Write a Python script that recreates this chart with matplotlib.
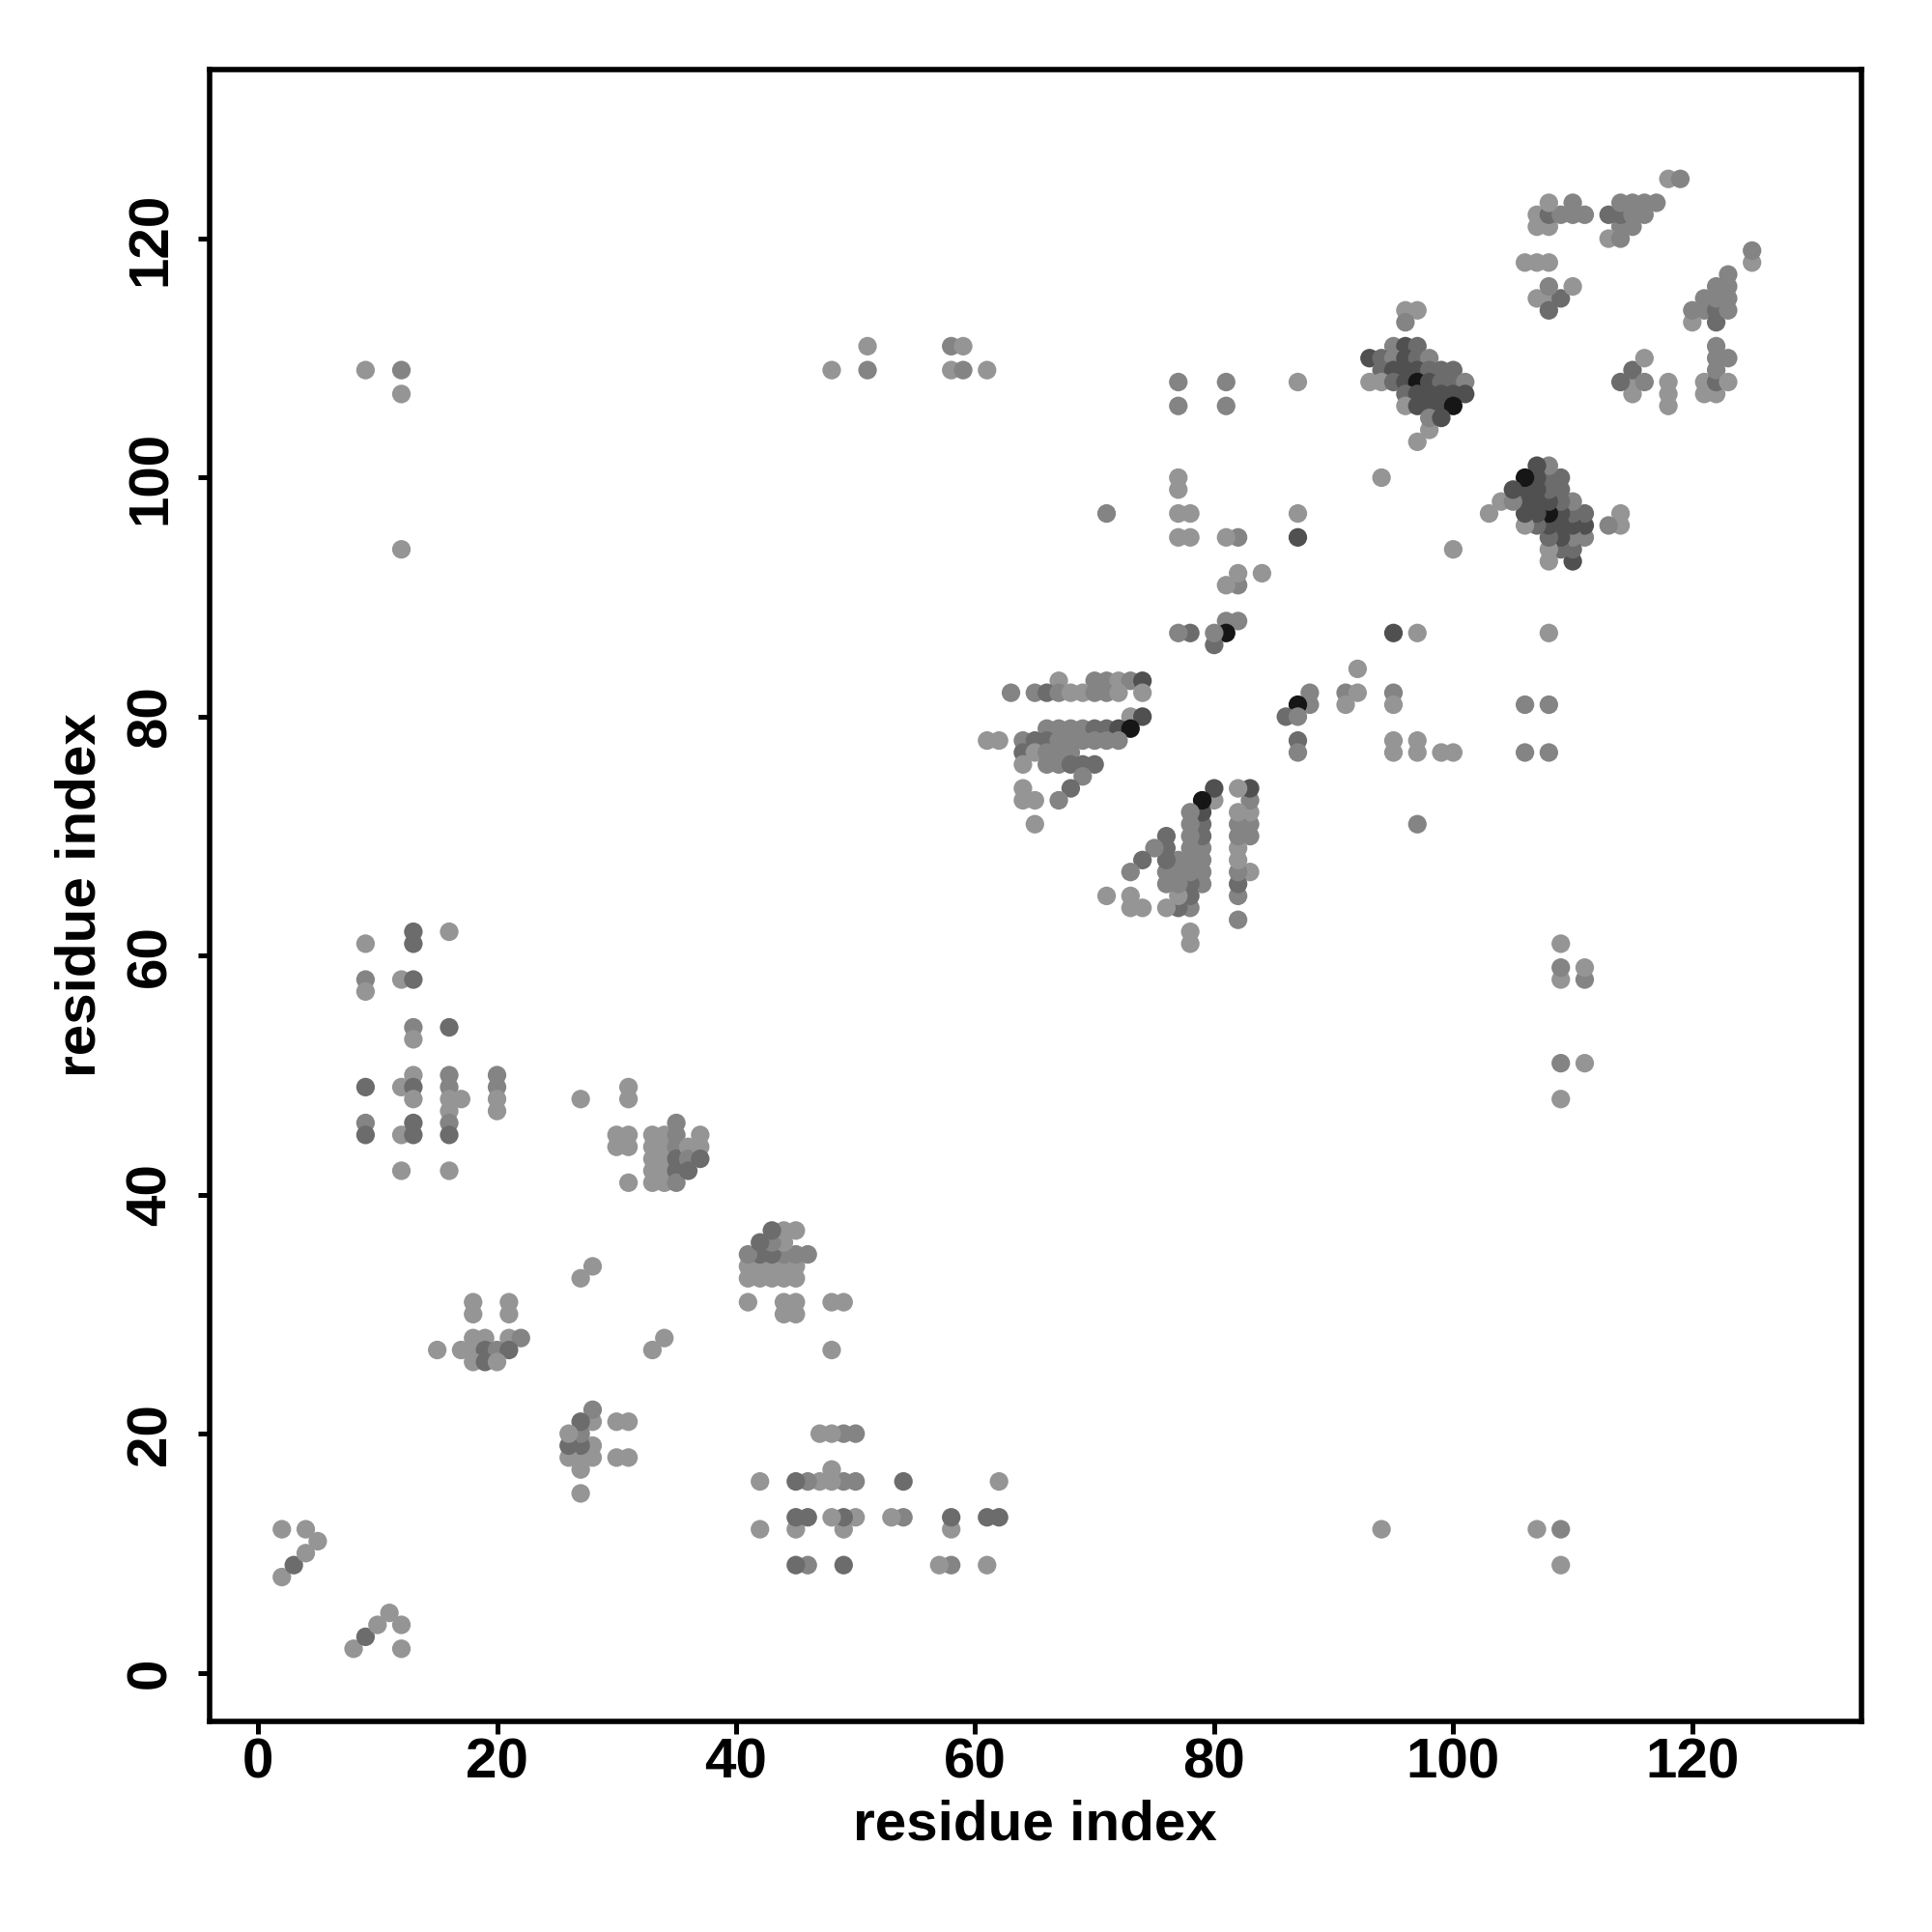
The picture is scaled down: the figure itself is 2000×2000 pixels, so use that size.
import matplotlib
matplotlib.use("Agg")
import matplotlib.pyplot as plt

# --- contacts (i < j); the map is symmetric ---
# each entry: (residue i, residue j, shade level 1=light .. 5=black)
start_contacts = [(2, 8, 1), (3, 9, 3), (4, 10, 1), (5, 11, 1), (2, 12, 1), (4, 12, 1)]

contacts_15_31 = [(18, 31, 1), (18, 30, 1), (21, 31, 1), (21, 30, 1),
                  (18, 28, 1), (19, 28, 1), (21, 28, 1), (22, 28, 2),
                  (15, 27, 1), (17, 27, 1), (18, 27, 1), (19, 27, 3), (20, 27, 2), (21, 27, 3),
                  (18, 26, 1), (19, 26, 3), (20, 26, 1),
                  (27, 33, 1), (28, 34, 1)]

contacts_9_62 = [(9, 61, 1), (9, 58, 2), (9, 57, 1), (9, 49, 3), (9, 46, 2), (9, 45, 3),
                 (12, 58, 1), (12, 49, 1), (12, 45, 1), (12, 42, 1),
                 (13, 62, 3), (13, 61, 3), (13, 58, 3), (13, 54, 2), (13, 53, 1),
                 (13, 50, 1), (13, 49, 3), (13, 48, 1), (13, 46, 3), (13, 45, 3),
                 (16, 62, 1), (16, 54, 3), (16, 50, 2), (16, 49, 2), (16, 48, 1),
                 (16, 47, 1), (16, 46, 2), (16, 45, 3), (16, 42, 1),
                 (17, 48, 1),
                 (20, 50, 2), (20, 49, 2), (20, 48, 1), (20, 47, 1)]

contacts_30_49 = [(30, 45, 1), (30, 44, 1), (31, 45, 1), (31, 44, 1), (31, 41, 1),
                  (31, 49, 1), (31, 48, 1), (27, 48, 1),
                  (33, 41, 1), (33, 42, 1), (33, 43, 1), (33, 44, 1), (33, 45, 1),
                  (34, 41, 1), (34, 42, 1), (34, 43, 1), (34, 44, 1), (34, 45, 1),
                  (35, 46, 2), (35, 45, 2), (35, 44, 2), (35, 43, 3), (35, 42, 3), (35, 41, 2),
                  (36, 44, 1), (36, 43, 2), (36, 42, 3),
                  (37, 45, 1), (37, 44, 1), (37, 43, 3)]

contacts_far = [(9, 109, 1), (12, 109, 2), (12, 107, 1), (12, 94, 1),
                (48, 109, 1), (51, 111, 1), (51, 109, 2), (58, 111, 2), (59, 111, 1),
                (58, 109, 1), (59, 109, 2), (61, 109, 1)]

contacts_61_83 = [(67, 83, 1), (70, 83, 2), (71, 83, 2), (72, 83, 1), (73, 83, 2), (74, 83, 4),
                  (63, 82, 2), (65, 82, 2), (66, 82, 3), (67, 82, 2), (68, 82, 1), (69, 82, 1),
                  (70, 82, 2), (71, 82, 2), (72, 82, 1), (74, 82, 1),
                  (73, 80, 1), (74, 80, 4),
                  (66, 79, 2), (67, 79, 2), (68, 79, 2), (69, 79, 2), (70, 79, 3), (71, 79, 3),
                  (72, 79, 4), (73, 79, 5),
                  (61, 78, 1), (62, 78, 1), (64, 78, 2), (65, 78, 3), (66, 78, 3), (67, 78, 2),
                  (68, 78, 2), (69, 78, 2), (70, 78, 2), (71, 78, 2), (72, 78, 2),
                  (64, 77, 3), (65, 77, 1), (66, 77, 2), (67, 77, 2), (68, 77, 2),
                  (64, 76, 1), (66, 76, 2), (67, 76, 2), (68, 76, 3), (69, 76, 3), (70, 76, 3),
                  (69, 75, 2), (64, 74, 1), (68, 74, 3),
                  (64, 73, 1), (65, 73, 1), (67, 73, 2), (65, 71, 1)]

contacts_77_108 = [(82, 88, 2), (81, 88, 2), (81, 87, 5), (80, 86, 3), (80, 87, 2),
                   (78, 87, 3), (77, 87, 2),
                   (84, 92, 1), (82, 91, 2), (82, 92, 1), (81, 91, 1),
                   (82, 95, 2), (81, 95, 1), (78, 95, 1), (77, 95, 1),
                   (78, 97, 1), (77, 97, 1), (77, 99, 1), (77, 100, 1),
                   (81, 106, 2), (81, 108, 2), (77, 106, 2), (77, 108, 2), (71, 97, 2),
                   (87, 95, 4), (87, 97, 1), (87, 108, 1)]

contacts_93_114 = [(94, 100, 1), (97, 103, 1), (98, 104, 1),
                   (96, 114, 1), (97, 114, 1), (96, 113, 2),
                   (95, 111, 2), (96, 111, 4), (97, 111, 3),
                   (93, 110, 4), (94, 110, 3), (95, 110, 2), (96, 110, 4), (97, 110, 3), (98, 110, 2),
                   (94, 109, 3), (95, 109, 4), (96, 109, 4), (97, 109, 4), (98, 109, 3),
                   (99, 109, 3), (100, 109, 3),
                   (93, 108, 1), (94, 108, 1), (95, 108, 3), (96, 108, 4), (97, 108, 5),
                   (98, 108, 4), (99, 108, 3), (100, 108, 3), (101, 108, 2),
                   (96, 107, 3), (97, 107, 4), (98, 107, 4), (99, 107, 4), (100, 107, 4), (101, 107, 4),
                   (96, 106, 1), (97, 106, 4), (98, 106, 4), (99, 106, 4), (100, 106, 5),
                   (98, 105, 2), (99, 105, 4)]

contacts_106_125 = [(107, 115, 1), (108, 115, 1), (109, 115, 3), (108, 114, 3),
                    (110, 116, 1), (108, 116, 2),
                    (106, 118, 1), (107, 118, 1), (108, 118, 1),
                    (107, 121, 1), (108, 121, 1), (114, 121, 2), (115, 121, 2),
                    (107, 122, 1), (108, 122, 3), (109, 122, 2), (110, 122, 2), (111, 122, 2),
                    (113, 122, 3), (114, 122, 3), (115, 122, 2), (116, 122, 2),
                    (108, 123, 1), (110, 123, 2), (114, 123, 2), (115, 123, 2),
                    (116, 123, 2), (117, 123, 2),
                    (113, 120, 1), (114, 120, 2),
                    (118, 125, 1), (119, 125, 2)]

shade_colors = {1: "#959595", 2: "#848484", 3: "#6c6c6c", 4: "#505050", 5: "#161616"}

all_contacts = (start_contacts + contacts_15_31 + contacts_9_62 + contacts_30_49 +
                contacts_far + contacts_61_83 + contacts_77_108 + contacts_93_114 +
                contacts_106_125)

xs, ys, cols = [], [], []
for i, j, lev in all_contacts:
    xs += [i, j]
    ys += [j, i]
    cols += [shade_colors[lev]] * 2

plt.rcParams['font.family'] = ['Liberation Sans', 'DejaVu Sans']
plt.rcParams['font.weight'] = 'bold'

fig = plt.figure(figsize=(10, 10), dpi=200)
ax = fig.add_axes([0.1084, 0.109, 0.855, 0.855])
ax.scatter(xs, ys, s=48, c=cols, linewidths=0, zorder=2)

ax.set_xlim(-4.06, 134.14)
ax.set_ylim(-4.08, 134.15)
ticks = [0, 20, 40, 60, 80, 100, 120]
ax.set_xticks(ticks)
ax.set_yticks(ticks)
ax.set_yticklabels([str(t) for t in ticks], rotation=90, va='center')
ax.tick_params(labelsize=21, width=1.8, length=4.5)
ax.tick_params(axis='x', pad=1.5)
ax.tick_params(axis='y', pad=7.5)
for sp in ax.spines.values():
    sp.set_linewidth(2.0)

ax.set_xlabel("residue index", fontsize=21, fontweight='bold', labelpad=3.5)
ax.set_ylabel("residue index", fontsize=21, fontweight='bold', labelpad=7)

fig.savefig("out.png", dpi=200)
